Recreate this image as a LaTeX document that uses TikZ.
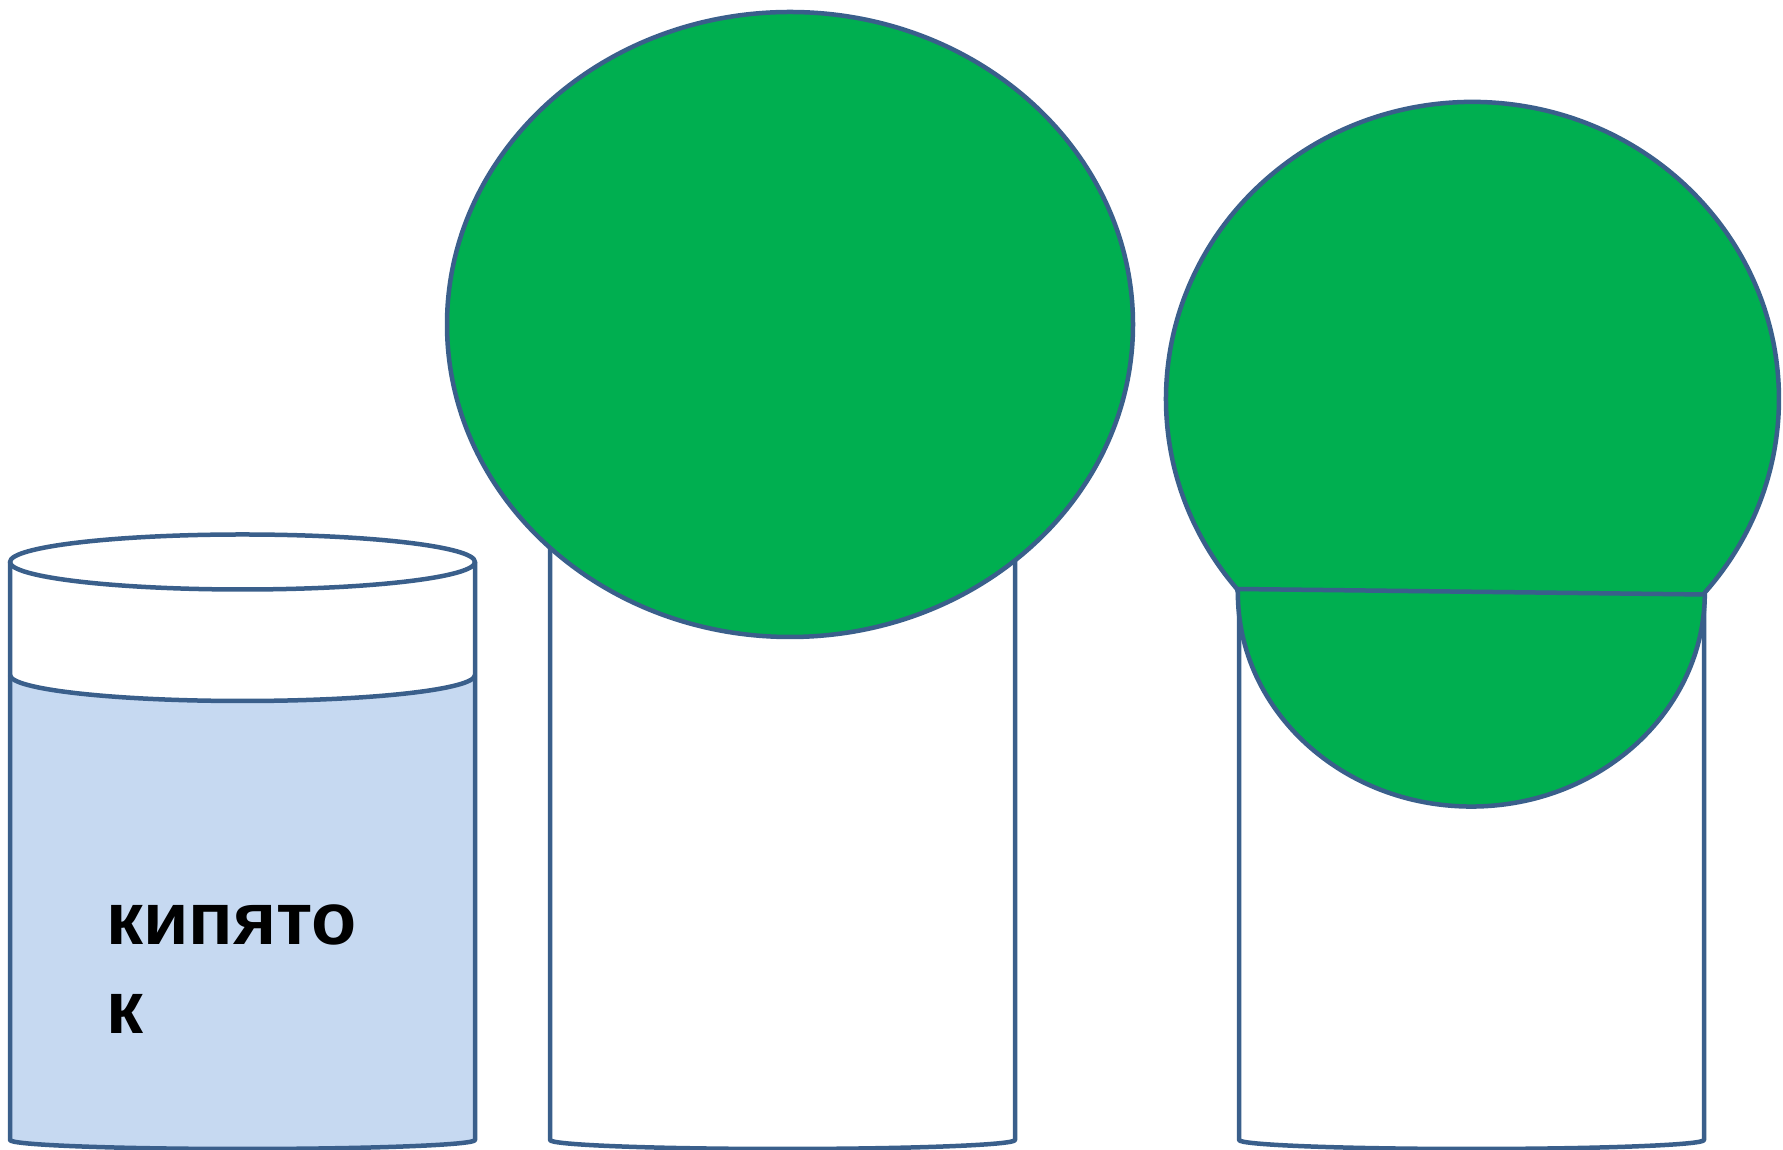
\documentclass[tikz,border=0pt]{standalone}
\usepackage{fontspec}
\setmainfont{Liberation Sans}
\definecolor{edge}{HTML}{3A5F8B}
\definecolor{leaf}{HTML}{00AF50}
\definecolor{water}{HTML}{C6D9F1}
\begin{document}
\begin{tikzpicture}[x=1pt,y=1pt,line join=round,
  outline/.style={draw=edge,line width=4.5pt},
  labeltext/.style={anchor=base west,inner sep=0pt,font=\bfseries\fontsize{74}{89}\selectfont}]
\useasboundingbox (0,0) rectangle (1783,1150);
% left can with water
\fill[water] (10,475) -- (10,10) arc[start angle=180,end angle=360,x radius=232.5,y radius=9]
  -- (475,475) arc[start angle=0,end angle=-180,x radius=232.5,y radius=26] -- cycle;
\draw[outline] (10,588) -- (10,10) arc[start angle=180,end angle=360,x radius=232.5,y radius=9] -- (475,588);
\draw[outline] (10,475) arc[start angle=180,end angle=360,x radius=232.5,y radius=26];
\draw[outline,fill=white] (242.5,588) ellipse[x radius=232.5,y radius=27.5];
\node[labeltext] (t1) at (106,205) {кипято};
\node[labeltext] (t2) at (106,116) {к};
% middle can
\draw[outline] (550,650) -- (550,10) arc[start angle=180,end angle=360,x radius=232.5,y radius=9] -- (1015,650);
\draw[outline,fill=leaf] (790,825.5) ellipse[x radius=343,y radius=312.5];
% right can
\draw[outline] (1239,561) -- (1239,10) arc[start angle=180,end angle=360,x radius=232.5,y radius=9] -- (1704,555);
\draw[outline,fill=leaf] (1237,561) arc[start angle=219.8,end angle=-40.7,x radius=306.5,y radius=297]
  arc[start angle=0,end angle=-180,x radius=233.5,y radius=214] -- cycle;
\draw[outline] (1237,561) -- (1704.5,555.5);
\end{tikzpicture}
\end{document}
